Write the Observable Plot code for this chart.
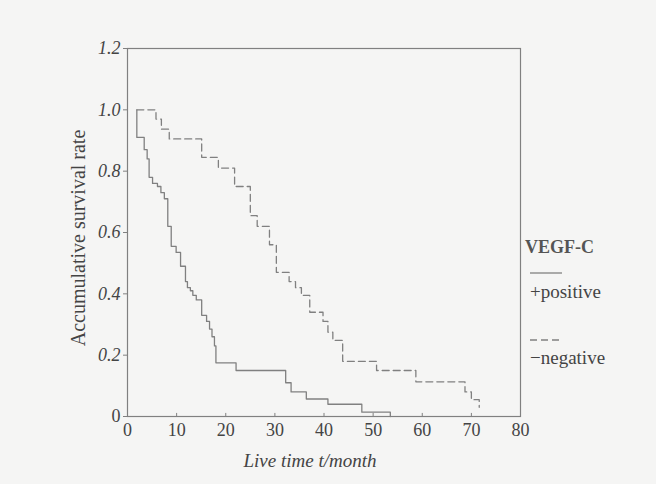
<!DOCTYPE html>
<html><head><meta charset="utf-8">
<script src="https://cdn.jsdelivr.net/npm/d3@7"></script>
<script src="https://cdn.jsdelivr.net/npm/@observablehq/plot@0.6"></script>
<style>
html,body{margin:0;padding:0;background:#f5f5f4;}
#chart{width:656px;height:484px;}
</style></head><body><div id="chart"></div>
<script>
// Kaplan–Meier curves (time in months, survival rate)
const posTime = [1.9, 1.9, 3.4, 4.0, 4.4, 5.1, 6.1, 6.8, 7.5, 8.2, 8.9, 9.9, 10.8, 11.8, 12.2, 12.8, 13.3, 14.0, 15.1, 16.1, 16.7, 17.2, 17.7, 18.0, 22.1, 32.2, 33.3, 36.4, 40.8, 47.7, 53.5];
const posSurv = [1.0, 0.91, 0.87, 0.84, 0.78, 0.76, 0.75, 0.73, 0.71, 0.62, 0.555, 0.535, 0.49, 0.44, 0.42, 0.41, 0.395, 0.38, 0.33, 0.31, 0.285, 0.26, 0.23, 0.175, 0.15, 0.11, 0.08, 0.057, 0.04, 0.014, 0];
const negTime = [1.9, 5.8, 6.9, 8.5, 15.1, 18.5, 21.8, 25.0, 26.4, 28.9, 30.3, 32.9, 34.2, 35.4, 37.1, 39.8, 40.8, 41.8, 43.8, 50.7, 58.7, 68.7, 70.0, 71.6];
const negSurv = [1.0, 0.97, 0.937, 0.905, 0.845, 0.81, 0.75, 0.655, 0.62, 0.56, 0.47, 0.44, 0.42, 0.395, 0.34, 0.31, 0.275, 0.248, 0.18, 0.15, 0.113, 0.08, 0.055, 0.03];
const xTicks = [0, 10, 20, 30, 40, 50, 60, 70, 80];
const yTicks = [0, 0.2, 0.4, 0.6, 0.8, 1.0, 1.2];
const legendTitle = "VEGF-C";
const groupLabels = ["+positive", "\u2212negative"];
const xTitle = "Live time t/month";
const yTitle = "Accumulative survival rate";

const pos = posTime.map((t, i) => ({t, s: posSurv[i]}));
const neg = negTime.map((t, i) => ({t, s: negSurv[i]}));
const ink = "#808080";
const txt = "#444";
const serif = "'Liberation Serif', 'DejaVu Serif', serif";

const plot = Plot.plot({
  width: 656, height: 484,
  marginLeft: 127, marginRight: 136, marginTop: 48, marginBottom: 68,
  style: {background: "#f5f5f4", fontFamily: serif, fontSize: "18px", color: txt, overflow: "visible"},
  x: {domain: [0, 80]},
  y: {domain: [0, 1.2]},
  marks: [
    Plot.frame({stroke: ink, strokeWidth: 1.2}),
    Plot.axisX({ticks: xTicks, tickSize: 0, tickPadding: 7, label: null, fill: txt}),
    Plot.ruleX(xTicks.slice(1, -1), {y1: 0, y2: 0.01, stroke: ink}),
    Plot.axisY({ticks: yTicks, tickSize: 4, tickPadding: 3, label: null, stroke: ink, fill: txt,
      tickFormat: d => d === 0 ? "0" : d.toFixed(1)}),
    Plot.line(pos, {x: "t", y: "s", curve: "step-after", stroke: ink, strokeWidth: 1.3}),
    Plot.line(neg, {x: "t", y: "s", curve: "step-after", stroke: ink, strokeWidth: 1.3, strokeDasharray: "7,4"})
  ]
});

const svg = d3.select(plot);
// enlarge every tick label (Plot's own text) to match the scanned size
svg.selectAll("text").style("font-size", "18px").style("font-family", serif);
svg.selectAll("text").filter(function() { return this.textContent.includes("."); }).style("font-style", "italic");

svg.append("text").attr("x", 310).attr("y", 467).attr("text-anchor", "middle")
  .attr("font-family", serif).attr("font-style", "italic").attr("font-size", 19).attr("fill", txt).text(xTitle);
svg.append("text").attr("transform", "translate(85,238) rotate(-90)").attr("text-anchor", "middle")
  .attr("font-family", serif).attr("font-size", 20).attr("fill", txt).text(yTitle);

const lg = svg.append("g").attr("font-family", serif).attr("fill", txt).attr("font-size", 19).attr("text-anchor", "start");
lg.append("text").attr("x", 525).attr("y", 253).attr("font-size", 18).attr("font-weight", "bold").attr("fill", "#555").text(legendTitle);
lg.append("line").attr("x1", 530).attr("x2", 562).attr("y1", 273).attr("y2", 273).attr("stroke", ink).attr("stroke-width", 1.3);
lg.append("text").attr("x", 530).attr("y", 298).text(groupLabels[0]);
lg.append("line").attr("x1", 530).attr("x2", 562).attr("y1", 340).attr("y2", 340).attr("stroke", ink).attr("stroke-width", 1.3).attr("stroke-dasharray", "7,4");
lg.append("text").attr("x", 530).attr("y", 364).text(groupLabels[1]);

document.getElementById("chart").appendChild(plot);
</script></body></html>
